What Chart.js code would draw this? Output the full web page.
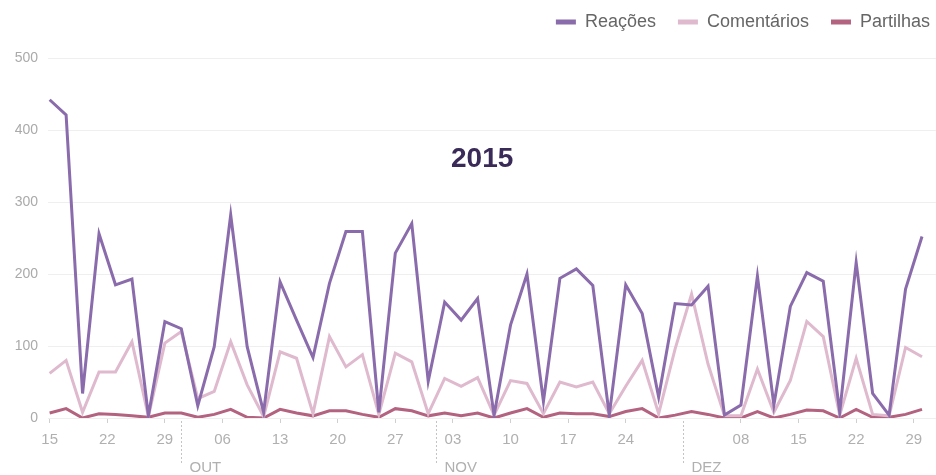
<!DOCTYPE html>
<html>
<head>
<meta charset="utf-8">
<script src="https://cdn.jsdelivr.net/npm/chart.js@4"></script>
<style>
  body { margin: 0; background: #fff; }
  #wrap { position: relative; width: 936px; height: 475px; }
  #ano {
    position: absolute; left: 451px; top: 144px;
    font: bold 28px "Liberation Sans", Arial, sans-serif; line-height: 28px;
    color: #3a2a58;
  }
</style>
</head>
<body>
<div id="wrap">
  <canvas id="myChart" width="936" height="475"></canvas>
  <div id="ano">2015</div>
</div>
<script>
// datas dos pontos (um a cada 2 dias)
const dates = [
  "2015-09-15", "2015-09-17", "2015-09-19", "2015-09-21", "2015-09-23", "2015-09-25", "2015-09-27", "2015-09-29",
  "2015-10-01", "2015-10-03", "2015-10-05", "2015-10-07", "2015-10-09", "2015-10-11", "2015-10-13", "2015-10-15",
  "2015-10-17", "2015-10-19", "2015-10-21", "2015-10-23", "2015-10-25", "2015-10-27", "2015-10-29", "2015-10-31",
  "2015-11-02", "2015-11-04", "2015-11-06", "2015-11-08", "2015-11-10", "2015-11-12", "2015-11-14", "2015-11-16",
  "2015-11-18", "2015-11-20", "2015-11-22", "2015-11-24", "2015-11-26", "2015-11-28", "2015-11-30",
  "2015-12-02", "2015-12-04", "2015-12-06", "2015-12-08", "2015-12-10", "2015-12-12", "2015-12-14", "2015-12-16",
  "2015-12-18", "2015-12-20", "2015-12-22", "2015-12-24", "2015-12-26", "2015-12-28", "2015-12-30",
];

const reacoes = [
  442, 421, 34, 256, 185, 193, 3, 134, 124, 17,
  99, 282, 99, 8, 189, 136, 84, 187, 259, 259,
  8, 229, 270, 51, 161, 136, 166, 4, 129, 200,
  23, 194, 207, 184, 4, 185, 145, 29, 159, 157,
  183, 4, 18, 197, 18, 155, 202, 190, 8, 216,
  34, 4, 179, 252,
];

const comentarios = [
  62, 80, 8, 64, 64, 106, 2, 104, 120, 27,
  37, 106, 46, 2, 92, 83, 6, 113, 71, 88,
  5, 90, 78, 6, 55, 44, 56, 4, 52, 48,
  6, 50, 43, 50, 6, 44, 80, 6, 96, 172,
  75, 3, 3, 68, 8, 52, 134, 113, 4, 83,
  5, 3, 98, 85,
];

const partilhas = [
  7, 13, 0, 6, 5, 3, 1, 7, 7, 1,
  5, 12, 1, 0, 12, 7, 3, 10, 10, 5,
  1, 13, 10, 3, 7, 3, 7, 0, 7, 13,
  1, 7, 6, 6, 2, 9, 13, 0, 4, 9,
  5, 0, 0, 9, 0, 5, 11, 10, 0, 12,
  1, 1, 5, 12,
];

// ticks semanais do eixo x
const weekTicks = [
  "2015-09-15", "2015-09-22", "2015-09-29", "2015-10-06", "2015-10-13", "2015-10-20", "2015-10-27",
  "2015-11-03", "2015-11-10", "2015-11-17", "2015-11-24", "2015-12-08", "2015-12-15", "2015-12-22", "2015-12-29",
];
const weekLabels = ["15", "22", "29", "06", "13", "20", "27", "03", "10", "17", "24", "08", "15", "22", "29"];

const monthStarts = ["2015-10-01", "2015-11-01", "2015-12-01"];
const monthLabels = ["OUT", "NOV", "DEZ"];

const yTicks = [0, 100, 200, 300, 400, 500];

const dayOf = (d) => (Date.parse(d) - Date.parse(dates[0])) / 86400000;
const toPoints = (arr) => dates.map((d, i) => ({ x: dayOf(d), y: arr[i] }));

const FONT = '"Liberation Sans", Arial, sans-serif';
Chart.defaults.font.family = FONT;

// separadores de mes (linha pontilhada + nome)
const monthMarks = {
  id: "monthMarks",
  afterDraw(chart) {
    const { ctx, chartArea } = chart;
    const x = chart.scales.x;
    ctx.save();
    ctx.strokeStyle = "#c4c4c4";
    ctx.lineWidth = 1;
    ctx.setLineDash([2, 2]);
    ctx.fillStyle = "#b0b0b0";
    ctx.font = "15px " + FONT;
    ctx.textBaseline = "middle";
    monthStarts.forEach((d, i) => {
      const px = Math.round(x.getPixelForValue(dayOf(d))) + 0.5;
      ctx.beginPath();
      ctx.moveTo(px, chartArea.bottom + 3);
      ctx.lineTo(px, chartArea.bottom + 45);
      ctx.stroke();
      ctx.fillText(monthLabels[i], px + 8, chartArea.bottom + 50);
    });
    ctx.restore();
  },
};

// legenda mais junto ao canto
const legendNudge = {
  id: "legendNudge",
  afterLayout(chart) {
    const l = chart.legend;
    l.left += 16;
    l.right += 16;
    l.top -= 17;
    l.bottom -= 17;
  },
};

const ctx = document.getElementById("myChart");
new Chart(ctx, {
  type: "line",
  data: {
    datasets: [
      {
        label: "Reações",
        data: toPoints(reacoes),
        borderColor: "#8a6bab",
        backgroundColor: "#8a6bab",
        borderWidth: 3,
      },
      {
        label: "Comentários",
        data: toPoints(comentarios),
        borderColor: "#dfb9cd",
        backgroundColor: "#dfb9cd",
        borderWidth: 3,
      },
      {
        label: "Partilhas",
        data: toPoints(partilhas),
        borderColor: "#b3627f",
        backgroundColor: "#b3627f",
        borderWidth: 3,
      },
    ],
  },
  options: {
    responsive: false,
    animation: false,
    layout: { padding: { top: 8, right: 0, bottom: 0, left: 0 } },
    elements: {
      point: { radius: 0 },
      line: { tension: 0, fill: false },
    },
    plugins: {
      legend: {
        position: "top",
        align: "end",
        labels: {
          boxWidth: 20,
          boxHeight: 5,
          padding: 22,
          color: "#666",
          font: { size: 18 },
          generateLabels: (chart) =>
            Chart.defaults.plugins.legend.labels.generateLabels(chart).map((l) => ({ ...l, lineWidth: 0 })),
        },
      },
      tooltip: { enabled: false },
    },
    scales: {
      x: {
        type: "linear",
        min: -0.2,
        max: 107.7,
        afterBuildTicks: (s) => {
          s.ticks = weekTicks.map((d) => ({ value: dayOf(d) }));
        },
        afterFit: (s) => {
          s.height = 57;
        },
        ticks: {
          autoSkip: false,
          maxRotation: 0,
          color: "#b0b0b0",
          font: { size: 15 },
          padding: 8,
          callback: (v, i) => weekLabels[i],
        },
        grid: { drawOnChartArea: false, drawTicks: true, tickLength: 5, tickColor: "#d0d0d0" },
        border: { display: false },
      },
      y: {
        min: 0,
        max: 500,
        afterBuildTicks: (s) => {
          s.ticks = yTicks.map((v) => ({ value: v }));
        },
        afterFit: (s) => {
          s.width = 48;
        },
        ticks: { color: "#aaa", font: { size: 14 }, padding: 10 },
        grid: { color: "#efefef", drawTicks: false },
        border: { display: false },
      },
    },
  },
  plugins: [monthMarks, legendNudge],
});
</script>
</body>
</html>
